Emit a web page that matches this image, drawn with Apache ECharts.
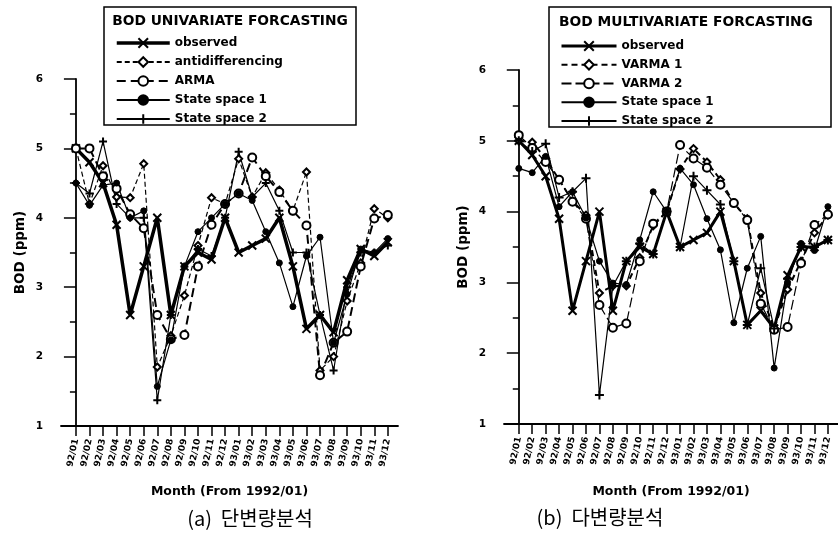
<!DOCTYPE html>
<html>
<head>
<meta charset="utf-8">
<script src="https://cdn.jsdelivr.net/npm/echarts@6/dist/echarts.min.js"></script>
<style>
  html, body { margin: 0; padding: 0; background: #fff; }
  #chart { width: 838px; height: 536px; }
</style>
</head>
<body>
<div id="chart"></div>
<script>
// 월 (x축 라벨)
const months = ['92/01', '92/02', '92/03', '92/04', '92/05', '92/06', '92/07', '92/08', '92/09', '92/10', '92/11', '92/12',
  '93/01', '93/02', '93/03', '93/04', '93/05', '93/06', '93/07', '93/08', '93/09', '93/10', '93/11', '93/12'];

// (a) 단변량분석
const observedA = [5.0, 4.8, 4.5, 3.9, 2.6, 3.3, 4.0, 2.6, 3.3, 3.5, 3.4, 4.0, 3.5, 3.6, 3.7, 4.0, 3.3, 2.4, 2.6, 2.35, 3.1, 3.55, 3.45, 3.65];
const antidiffA = [5.0, 4.2, 4.75, 4.3, 4.29, 4.78, 1.85, 2.3, 2.88, 3.6, 4.29, 4.2, 4.85, 4.3, 4.65, 4.4, 4.1, 4.66, 1.8, 2.0, 2.8, 3.35, 4.13, 4.0];
const armaA = [5.0, 5.0, 4.6, 4.42, 4.05, 3.85, 2.6, 2.25, 2.31, 3.3, 3.9, 4.2, 4.35, 4.87, 4.6, 4.37, 4.1, 3.89, 1.73, 2.2, 2.36, 3.3, 3.99, 4.04];
const ss1A = [4.5, 4.18, 4.47, 4.5, 4.0, 4.1, 1.57, 2.24, 3.3, 3.8, 4.0, 4.2, 4.35, 4.25, 3.8, 3.35, 2.72, 3.45, 3.72, 2.2, 2.9, 3.55, 3.5, 3.7];
const ss2A = [4.5, 4.35, 5.1, 4.2, 4.0, 4.0, 1.37, 2.6, 3.3, 3.55, 3.45, 4.0, 4.95, 4.3, 4.5, 4.1, 3.5, 3.5, 2.6, 1.8, 3.0, 3.5, 3.5, 3.6];

// (b) 다변량분석
const observedB = [5.0, 4.8, 4.5, 3.9, 2.6, 3.3, 4.0, 2.6, 3.3, 3.5, 3.4, 4.0, 3.5, 3.6, 3.7, 4.0, 3.3, 2.4, 2.6, 2.35, 3.1, 3.5, 3.5, 3.6];
const varma1B = [5.0, 4.98, 4.75, 4.45, 4.15, 3.95, 2.85, 2.95, 2.95, 3.35, 3.8, 4.0, 4.6, 4.89, 4.7, 4.45, 4.12, 3.9, 2.85, 2.35, 2.9, 3.3, 3.7, 3.95];
const varma2B = [5.08, 4.9, 4.7, 4.45, 4.14, 3.9, 2.68, 2.36, 2.42, 3.3, 3.83, 4.0, 4.94, 4.75, 4.62, 4.38, 4.12, 3.88, 2.7, 2.33, 2.37, 3.27, 3.81, 3.96];
const ss1B = [4.61, 4.55, 4.78, 4.07, 4.28, 3.91, 3.3, 2.99, 2.97, 3.6, 4.28, 4.0, 4.61, 4.38, 3.9, 3.46, 2.43, 3.2, 3.65, 1.79, 3.0, 3.55, 3.45, 4.07];
const ss2B = [5.0, 4.85, 4.96, 4.2, 4.28, 4.47, 1.41, 2.95, 3.3, 3.55, 3.4, 4.0, 3.5, 4.5, 4.3, 4.1, 3.3, 2.4, 3.2, 2.35, 3.05, 3.5, 3.5, 3.6];

const yTicks = [1, 2, 3, 4, 5, 6];

const ink = '#000';
const boldFont = 'DejaVu Sans';
const xPath = 'path://M0,0L10,10M10,0L0,10';
const plusPath = 'path://M5,0L5,10M0,5L10,5';
const idx = months.map((m, i) => i);

// 인덱스와 값을 짝지어 줌
const pairs = (arr) => arr.map((v, i) => [i, v]);

const makeX = (gridIndex, nameGap) => ({
  type: 'value', gridIndex, min: -1.1, max: 23.75,
  name: 'Month (From 1992/01)', nameLocation: 'middle', nameGap,
  nameTextStyle: { fontFamily: boldFont, fontWeight: 'bold', fontSize: 12.5, color: ink },
  axisLine: { lineStyle: { color: ink, width: 1.8 } },
  axisTick: { customValues: idx, length: 10, lineStyle: { color: ink, width: 1.5 } },
  axisLabel: {
    customValues: idx, rotate: 78, margin: 13, color: ink,
    fontFamily: boldFont, fontWeight: 'bold', fontSize: 9,
    formatter: (v) => months[Math.round(v)] || ''
  },
  splitLine: { show: false }
});

const makeY = (gridIndex) => ({
  type: 'value', gridIndex, min: yTicks[0], max: yTicks[yTicks.length - 1], interval: 1,
  name: 'BOD (ppm)', nameLocation: 'middle', nameGap: 34, nameRotate: 90,
  nameTextStyle: { fontFamily: boldFont, fontWeight: 'bold', fontSize: 13.5, color: ink },
  axisLine: { show: true, lineStyle: { color: ink, width: 1.8 } },
  axisTick: { show: true, length: 12, lineStyle: { color: ink, width: 1.5 } },
  minorTick: { show: true, splitNumber: 2, length: 6, lineStyle: { color: ink, width: 1.5 } },
  axisLabel: { margin: 18, color: ink, fontFamily: boldFont, fontWeight: 'bold', fontSize: 10.5 },
  splitLine: { show: false }
});

const line = (name, data, axis, lineStyle, symbol, symbolSize, itemStyle) => ({
  name, type: 'line', xAxisIndex: axis, yAxisIndex: axis,
  data: pairs(data), symbol, symbolSize,
  lineStyle: Object.assign({ color: ink }, lineStyle),
  itemStyle: Object.assign({ color: ink, borderColor: ink }, itemStyle),
  animation: false
});

const legendText = { fontFamily: boldFont, fontWeight: 'bold', fontSize: 12, color: ink, lineHeight: 12 };

const chart = echarts.init(document.getElementById('chart'));
chart.setOption({
  backgroundColor: '#fff',
  animation: false,
  grid: [
    { left: 61, top: 79, width: 337, height: 347 },
    { left: 504, top: 70, width: 334, height: 354 }
  ],
  xAxis: [makeX(0, 59), makeX(1, 61)],
  yAxis: [makeY(0), makeY(1)],
  legend: [
    {
      orient: 'vertical', left: 110, top: 32, itemWidth: 53, itemHeight: 12, itemGap: 7,
      textStyle: legendText, selectedMode: false,
      data: [
        { name: 'observed', lineStyle: { width: 3.5 } },
        'antidifferencing', 'ARMA', 'State space 1', 'State space 2'
      ]
    },
    {
      orient: 'vertical', left: 555, top: 35, itemWidth: 55, itemHeight: 12, itemGap: 6.75,
      textStyle: legendText, selectedMode: false,
      formatter: (n) => n.trim(),
      data: [
        { name: 'observed ', lineStyle: { width: 3 } },
        { name: 'VARMA 1', lineStyle: { width: 2 } },
        'VARMA 2', 'State space 1 ', 'State space 2 '
      ]
    }
  ],
  graphic: [
    { type: 'rect', shape: { x: 104, y: 7, width: 252, height: 118 }, style: { fill: 'none', stroke: ink, lineWidth: 1.5 }, z: 1 },
    { type: 'rect', shape: { x: 549, y: 7, width: 282, height: 120 }, style: { fill: 'none', stroke: ink, lineWidth: 1.5 }, z: 1 },
    { type: 'text', x: 230, y: 21, style: { text: 'BOD UNIVARIATE FORCASTING', fontFamily: boldFont, fontWeight: 'bold', fontSize: 13.8, fill: ink, align: 'center', verticalAlign: 'middle' } },
    { type: 'text', x: 686, y: 22, style: { text: 'BOD MULTIVARIATE FORCASTING', fontFamily: boldFont, fontWeight: 'bold', fontSize: 13.8, fill: ink, align: 'center', verticalAlign: 'middle' } },
    { type: 'text', x: 250, y: 518, style: { text: '(a)  단변량분석', fontFamily: 'Noto Sans CJK KR', fontSize: 20, fill: ink, align: 'center', verticalAlign: 'middle' } },
    { type: 'text', x: 600, y: 517, style: { text: '(b)  다변량분석', fontFamily: 'Noto Sans CJK KR', fontSize: 20, fill: ink, align: 'center', verticalAlign: 'middle' } }
  ],
  series: [
    line('observed', observedA, 0, { width: 3.5 }, xPath, 8, { borderWidth: 2 }),
    line('antidifferencing', antidiffA, 0, { width: 1.2, type: [5, 3] }, 'emptyDiamond', 7, { borderWidth: 1.2 }),
    line('ARMA', armaA, 0, { width: 2, type: [9, 5] }, 'emptyCircle', 8, { borderWidth: 1.3 }),
    line('State space 1', ss1A, 0, { width: 1.2 }, 'circle', 6, { borderWidth: 1 }),
    line('State space 2', ss2A, 0, { width: 1.2 }, plusPath, 8, { borderWidth: 2 }),

    line('observed ', observedB, 1, { width: 3 }, xPath, 8, { borderWidth: 2 }),
    line('VARMA 1', varma1B, 1, { width: 2, type: [6, 4] }, 'emptyDiamond', 7, { borderWidth: 1.2 }),
    line('VARMA 2', varma2B, 1, { width: 1.2, type: [10, 4] }, 'emptyCircle', 8, { borderWidth: 1.3 }),
    line('State space 1 ', ss1B, 1, { width: 1.2 }, 'circle', 6, { borderWidth: 1 }),
    line('State space 2 ', ss2B, 1, { width: 1.2 }, plusPath, 9, { borderWidth: 2 })
  ]
});
</script>
</body>
</html>
